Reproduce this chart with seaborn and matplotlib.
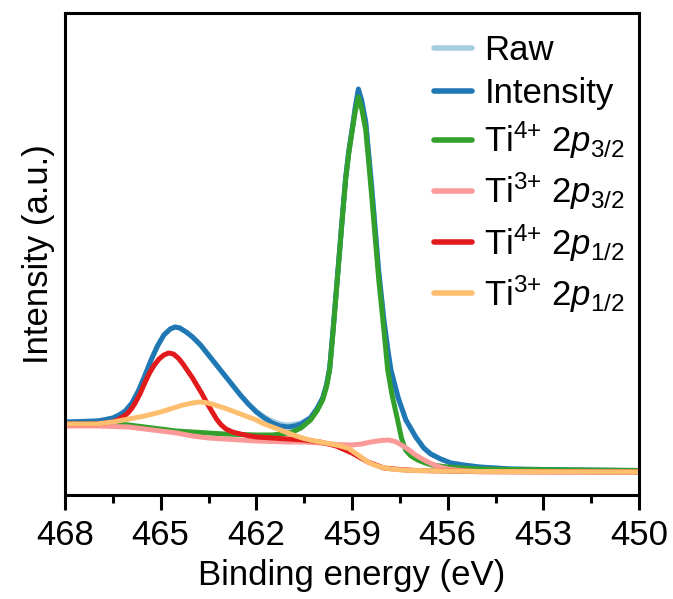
import numpy as np
import pandas as pd
import matplotlib
matplotlib.use("Agg")
import matplotlib.pyplot as plt
import seaborn as sns

# ---------------- data (arbitrary units) ----------------
E_int = [468, 467, 466.8, 466.5, 466.3, 466.1, 465.9, 465.7, 465.5, 465.3, 465.1,
         464.9, 464.7, 464.55, 464.4, 464.2, 464, 463.75, 463.5, 463.25, 463,
         462.75, 462.5, 462.25, 462, 461.75, 461.5, 461.25, 461, 460.8, 460.6,
         460.45, 460.3, 460.1, 459.92, 459.8, 459.7, 459.6, 459.46, 459.33, 459.2,
         459.1, 458.99, 458.9, 458.8, 458.7, 458.57, 458.48, 458.38, 458.27, 458.16,
         458.0, 457.88, 457.78, 457.55, 457.31, 457.0, 456.75, 456.53, 456.22,
         455.9, 455.5, 455, 454.5, 454, 453, 452, 450]
I_int = [72, 73, 74, 76, 79, 83, 91, 103, 118, 134, 148,
         159, 165, 167, 166, 162, 157, 149, 139, 129, 119,
         109, 99, 90, 82, 76, 71, 68, 67, 68, 70,
         73, 76, 85, 96, 109, 126, 162, 216, 267, 316,
         343, 366, 386, 405, 394, 372, 341, 306, 264, 222,
         174, 145, 124, 96, 74, 57, 46, 40, 35,
         31, 29, 27, 26, 25, 24.5, 24, 23.5]
I_raw = [72, 73, 74, 76, 79, 84, 91, 103, 118, 134, 148,
         159, 165, 167, 166, 162, 157, 149, 139, 129, 119,
         109, 99, 90, 83, 77, 73, 70, 69, 70, 71,
         74, 77, 86, 96, 109, 126, 162, 216, 267, 316,
         343, 366, 386, 404, 394, 372, 341, 306, 264, 222,
         174, 145, 124, 96, 74, 57, 46, 40, 35,
         31, 29, 27, 26, 25, 24.5, 24, 23.5]

E_g = [468, 467, 466.3, 466, 465.5, 465, 464.5, 464, 463.5, 463, 462.5, 462, 461.5,
       461.2, 461, 460.8, 460.6, 460.45, 460.3, 460.1, 459.92, 459.8, 459.7, 459.6,
       459.46, 459.33, 459.2, 459.1, 458.99, 458.9, 458.8, 458.7, 458.57, 458.48,
       458.38, 458.27, 458.16, 458.0, 457.88, 457.75, 457.57, 457.45, 457.32,
       457.15, 456.94, 456.7, 456.5, 456, 455, 454, 452, 450]
I_g = [70, 70, 70, 69, 67, 65, 63, 62, 61, 60, 59.5, 59, 59,
       60, 61, 63, 66, 70, 74, 83, 94, 107, 124, 160,
       214, 265, 314, 341, 364, 382, 397, 386, 364, 333,
       297, 255, 214, 164, 124, 100, 74, 56, 44,
       38, 34, 31, 29, 27, 25, 24.5, 24, 23.5]

E_p = [468, 467, 466.5, 466, 465.5, 465, 464.5, 464, 463.5, 463, 462.5, 462, 461,
       460.5, 460, 459.5, 459, 458.7, 458.4, 458.1, 457.85, 457.65, 457.45, 457.25,
       457.05, 456.85, 456.65, 456.45, 456.25, 456, 455.6, 455, 453, 450]
I_p = [68, 68, 67.5, 67, 65, 63, 61, 58, 56, 55, 54, 53, 52,
       52, 51, 49.5, 49, 50, 52, 53.5, 54, 52.5, 49, 45,
       40, 36, 32.5, 29.5, 27, 25, 23.5, 22, 22, 22]

E_r = [468, 467, 466.5, 466.3, 466.1, 466, 465.9, 465.8, 465.65, 465.5, 465.35,
       465.2, 465.05, 464.9, 464.75, 464.6, 464.45, 464.3, 464.15, 464, 463.85,
       463.7, 463.55, 463.4, 463.25, 463.1, 462.95, 462.75, 462.5, 462.2, 462,
       461.5, 461, 460.5, 460, 459.5, 459, 458.5, 458, 457.5, 457, 455, 450]
I_r = [70, 70, 72, 75, 79, 82, 86, 91, 100, 111, 121,
       129, 135, 139, 141, 140, 136, 130, 123, 116, 108,
       100, 91, 83, 75, 69, 65, 62, 60, 58, 57,
       56, 55, 54, 52, 48, 41, 32, 26, 24.5, 23.5, 22.5, 22]

E_o = [468, 467, 466.5, 466, 465.5, 465, 464.6, 464.3, 464, 463.8, 463.6, 463.4,
       463.2, 463, 462.75, 462.5, 462.25, 462, 461.75, 461.5, 461.25, 461, 460.75,
       460.5, 460.25, 460, 459.75, 459.5, 459.3, 459.1, 458.9, 458.7, 458.5, 458.3,
       458.1, 457.8, 457.4, 457, 456, 455, 450]
I_o = [70, 70, 72, 75, 78, 82, 86, 89, 91, 92, 91.5, 90,
       88, 86, 83, 80, 77, 74, 70, 67, 64, 61, 58,
       55.5, 53.5, 52, 50.5, 49, 47.5, 45.5, 41, 36.5, 32, 29,
       27, 25, 24, 23.5, 23, 22.5, 22]

labels = ["Raw", "Intensity",
          r"Ti$^{4{+}}$ $\mathit{2p}_{\mathit{3/2}}$",
          r"Ti$^{3{+}}$ $\mathit{2p}_{\mathit{3/2}}$",
          r"Ti$^{4{+}}$ $\mathit{2p}_{\mathit{1/2}}$",
          r"Ti$^{3{+}}$ $\mathit{2p}_{\mathit{1/2}}$"]
x_ticks = [468, 465, 462, 459, 456, 453, 450]
x_minor = [466.5, 463.5, 460.5, 457.5, 454.5, 451.5]

# ---------------- build long table ----------------
series = [(E_int, I_raw), (E_int, I_int), (E_g, I_g), (E_p, I_p), (E_r, I_r), (E_o, I_o)]
frames = []
for lab, (ex, iy) in zip(labels, series):
    frames.append(pd.DataFrame({"E": ex, "I": iy, "series": lab}))
df = pd.concat(frames, ignore_index=True)

pal = sns.color_palette("Paired")
colors = [pal[0], pal[1], pal[3], pal[4], pal[5], pal[6]]

sns.set_style("ticks")
plt.rcParams["font.family"] = ["Liberation Sans", "DejaVu Sans"]
plt.rcParams["mathtext.fontset"] = "custom"
plt.rcParams["mathtext.rm"] = "Liberation Sans"
plt.rcParams["mathtext.it"] = "Liberation Sans:italic"
plt.rcParams["mathtext.bf"] = "Liberation Sans:bold"
for k in ["text.color", "axes.labelcolor", "xtick.color", "ytick.color", "axes.edgecolor"]:
    plt.rcParams[k] = "black"

fig = plt.figure(figsize=(6.73, 5.99), dpi=100)
ax = fig.add_axes([65 / 673, 1 - 495 / 599, (639 - 65) / 673, (495 - 13) / 599])

for lab, col in zip(labels, colors):
    sub = df[df["series"] == lab]
    sns.lineplot(data=sub, x="E", y="I", ax=ax, color=col, lw=3.6,
                 sort=False, estimator=None, label=lab,
                 solid_joinstyle="round", solid_capstyle="round")

ax.set_xlim(468, 450)
ax.set_ylim(-1, 481)
ax.set_xticks(x_ticks)
ax.set_xticks(x_minor, minor=True)
ax.set_yticks([])
ax.tick_params(axis="x", which="major", direction="out", length=11, width=2.2,
               labelsize=25, pad=6, top=False)
ax.tick_params(axis="x", which="minor", direction="out", length=6, width=2.2, top=False)
for s in ax.spines.values():
    s.set_linewidth(2.2)
    s.set_visible(True)
    s.set_color("black")
ax.set_xlabel("Binding energy (eV)", fontsize=25, labelpad=5)
ax.set_ylabel("Intensity (a.u.)", fontsize=25, labelpad=7)

leg = ax.legend(loc="upper right", frameon=False, fontsize=25, handlelength=1.1,
                handletextpad=0.35, labelspacing=0.28, borderaxespad=0.0,
                bbox_to_anchor=(1.0, 0.985))
for h in leg.get_lines():
    h.set_linewidth(4)

fig.savefig("out.png", dpi=100)
